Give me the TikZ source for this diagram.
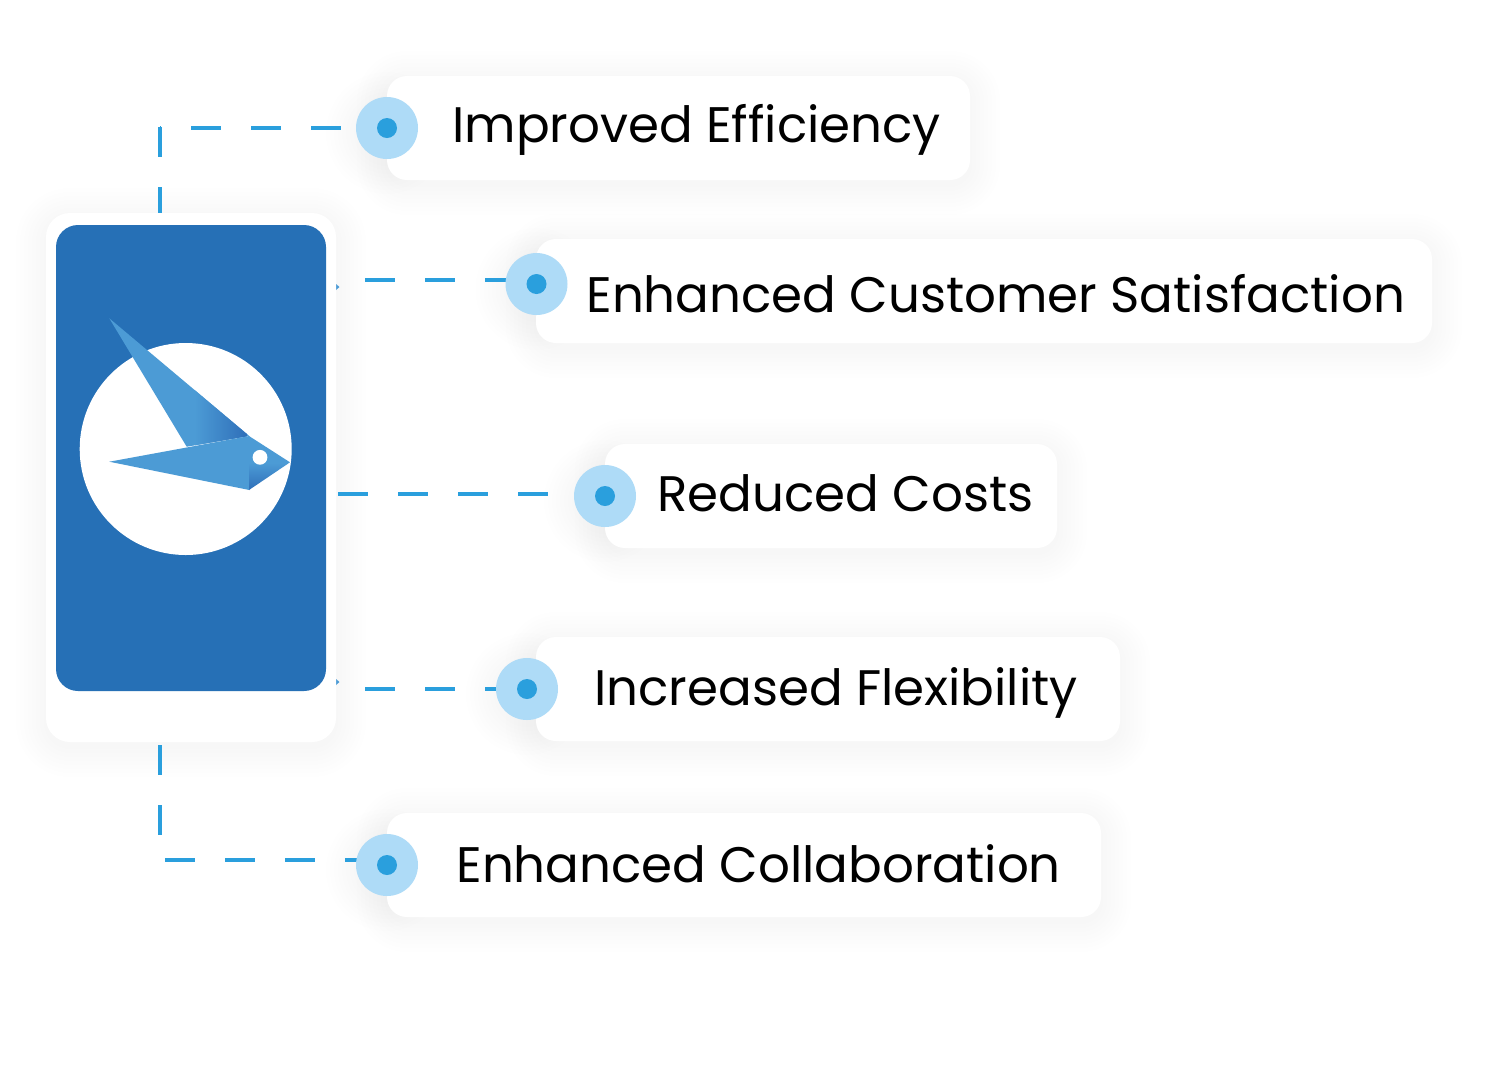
\documentclass[tikz,border=0pt]{standalone}
\usepackage{fontspec}
\setmainfont{Poppins}
\usetikzlibrary{calc}
\definecolor{phoneblue}{HTML}{2670B6}
\definecolor{birdblue}{HTML}{4C9BD5}
\definecolor{birddark}{HTML}{2F6FB9}
\definecolor{dashblue}{HTML}{2A9FDD}
\definecolor{halo}{HTML}{AEDBF7}
\tikzset{
  dashline/.style={dashblue,line width=2pt,dash pattern=on 15pt off 15pt},
  halodot/.style={circle,fill=halo,minimum size=31pt,inner sep=0pt},
  coredot/.style={circle,fill=dashblue,minimum size=10pt,inner sep=0pt},
  labeltext/.style={anchor=base west,inner sep=0pt,font=\fontsize{24.95}{30}\selectfont}
}
% soft shadow under a rounded box: x1,y1,x2,y2,radius
\newcommand{\softbox}[5]{
  \foreach \s in {2,6,...,30}{
    \fill[black,opacity=0.0035,rounded corners=#5+\s*0.5] (#1-\s,#2-\s+5) rectangle (#3+\s,#4+\s+5);}
}
\begin{document}
\begin{tikzpicture}[x=0.5pt,y=-0.5pt]
  \useasboundingbox[fill=white] (0,0) rectangle (1489,1084);
  % shadows
  \softbox{46}{213}{336}{742}{12pt}
  \foreach \xa/\ya/\xb/\yb in {387/76/970/180,536/239/1432/343,605/444/1057/548,536/637/1120/741,387/813/1101/917}{
    \softbox{\xa}{\ya}{\xb}{\yb}{10pt}}
  \foreach \xa/\ya in {356/97,505.5/253,574/465,496/658,356/834}{
    \softbox{\xa}{\ya}{\xa+62}{\ya+62}{15.5pt}}
  % dots come first so the connectors can use them
  \foreach \n/\cx/\cy in {1/387/128,2/536.5/284,3/605/496,4/527/689,5/387/865}{
    \coordinate (dot\n) at (\cx,\cy);}
  % connectors
  \coordinate (topcorner) at (160,127);
  \coordinate (lowcorner) at (165,860);
  \coordinate (phonetop) at (160,215);
  \coordinate (phonelow) at (160,745);
  \draw[dashline] (topcorner) -- (phonetop);
  \draw[dashline,dash phase=14.5pt] (topcorner |- 0,128) -- (dot1 |- 0,128);
  \draw[dashline] (phonelow) -- (phonelow |- 0,836);
  \draw[dashline] (lowcorner) -- (dot5 |- lowcorner);
  \draw[dashline] (365,280) -- (dot2 |- 0,280);
  \draw[dashline] (338,494) -- (dot3 |- 0,494);
  \draw[dashline] (365,689) -- (dot4);
  % tiny tips on the phone edge
  \foreach \y in {287,682}{\fill[birdblue] (336,\y-3) -- (339.5,\y) -- (336,\y+3) -- cycle;}
  % cards
  \fill[white,rounded corners=12pt] (46,213) rectangle (336,742);
  \fill[phoneblue,rounded corners=11pt] (56,225) rectangle (326,691);
  \foreach \xa/\ya/\xb/\yb in {387/76/970/180,536/239/1432/343,605/444/1057/548,536/637/1120/741,387/813/1101/917}{
    \fill[white,rounded corners=10pt] (\xa,\ya) rectangle (\xb,\yb);}
  % bird
  \fill[white] (185.7,449) circle (53pt);
  \fill[birdblue] (109.3,318.3) -- (186.7,446.7) -- (249.3,436) -- cycle;
  \begin{scope}
    \clip (109.3,318.3) -- (186.7,446.7) -- (249.3,436) -- cycle;
    \shade[left color=birdblue,right color=birddark] (195,300) rectangle (247,450);
  \end{scope}
  \fill[birdblue] (109.3,461.7) -- (249.3,436) -- (249.3,490) -- cycle;
  \shade[shading angle=60,bottom color=birddark,top color=birdblue,middle color=birdblue] (249,436) -- (290,462.3) -- (249,490) -- cycle;
  \fill[white] (260,457.3) circle (3.7pt);
  % dots and labels
  \foreach \n in {1,...,5}{
    \node[halodot] (halo\n) at (dot\n) {};
    \node[coredot] (core\n) at (dot\n) {};}
  \node[labeltext] (lab1) at (452,142) {Improved Efficiency};
  \node[labeltext] (lab2) at (586,312) {Enhanced Customer Satisfaction};
  \node[labeltext] (lab3) at (657,511.5) {Reduced Costs};
  \node[labeltext] (lab4) at (594,705) {Increased Flexibility};
  \node[labeltext] (lab5) at (456,882) {Enhanced Collaboration};
\end{tikzpicture}
\end{document}
